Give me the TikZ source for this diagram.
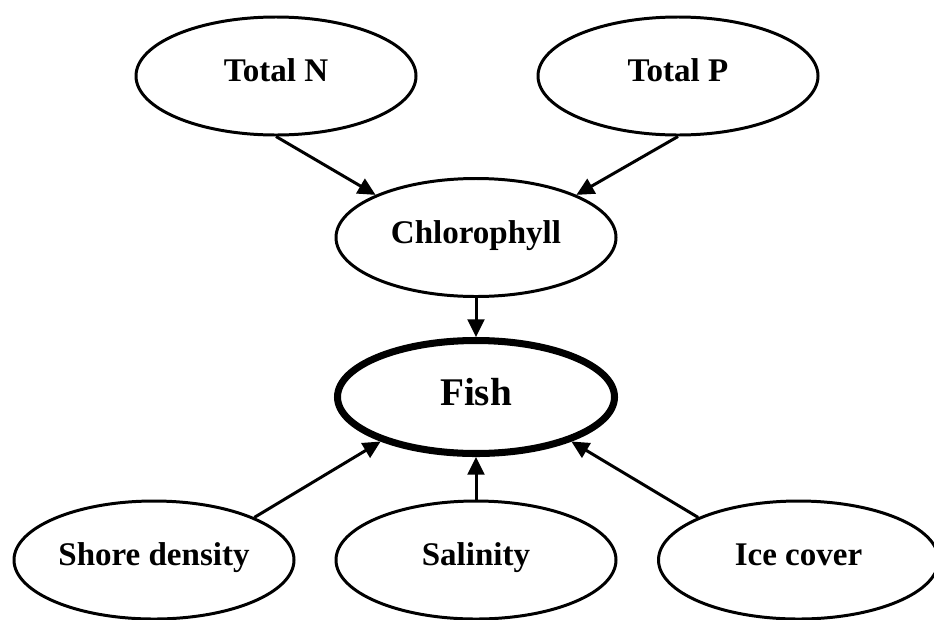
\documentclass[tikz,border=0pt]{standalone}
\usepackage{fontspec}
\setmainfont{Liberation Serif}
\usepackage{tikz}
\usetikzlibrary{arrows.meta,shapes.geometric,positioning}

\begin{document}
\begin{tikzpicture}[>={Triangle[length=10pt,width=9.5pt]},
  var/.style={draw, ellipse, line width=1.7pt, minimum width=5.6cm,
              minimum height=2.36cm, inner sep=0pt,
              text height=12.4pt, text depth=5.6pt,
              font=\fontsize{18.8}{22}\selectfont\bfseries},
  target/.style={var, line width=4pt, minimum width=5.54cm,
              minimum height=2.26cm,
              text height=14.7pt, text depth=4.5pt,
              font=\fontsize{22.3}{26}\selectfont\bfseries},
  link/.style={->, line width=1.7pt}]

\useasboundingbox (0,0) rectangle (18.68,-12.38);

% ---- Nutrients ----
\node[var] (totn) at (5.52,-1.52) {Total N};
\node[var] (totp) at (13.56,-1.52) {Total P};

% ---- Chlorophyll and fish ----
\node[var] (chl) at (9.52,-4.75) {Chlorophyll};
\node[target] (fish) at (9.52,-7.94) {Fish};

% ---- Habitat drivers ----
\node[var] (shore) at (3.08,-11.2) {Shore density};
\node[var] (sal) at (9.52,-11.2) {Salinity};
\node[var] (ice) at (15.97,-11.2) {Ice cover};

% Arrows
\draw[link] (totn.south) -- (chl.157);
\draw[link] (totp.south) -- (chl.23);
\draw[link] (chl.south) -- (fish.north);
\draw[link] (shore.23) -- (fish.205);
\draw[link] (sal.north) -- (fish.south);
\draw[link] (ice.157) -- (fish.335);

\end{tikzpicture}
\end{document}
